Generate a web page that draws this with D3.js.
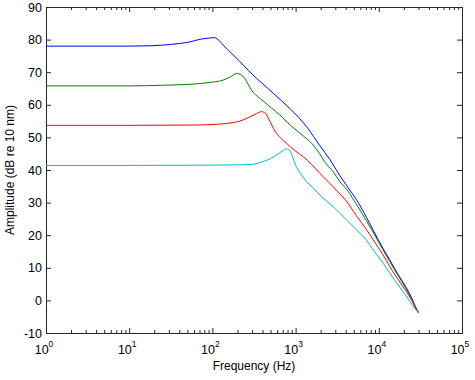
<!DOCTYPE html>
<html>
<head>
<meta charset="utf-8">
<script src="https://cdn.jsdelivr.net/npm/d3@7"></script>
<style>
  body { margin: 0; background: #fff; overflow: hidden; }
  text { font-family: "Liberation Sans", Arial, sans-serif; fill: #000; }
</style>
</head>
<body>
<script>
// curves: [frequency Hz, amplitude dB]
const blueCurve = [[1,78.0],[10,78.0],[18,78.1],[25,78.3],[40,78.8],[54,79.3],[71,80.1],[93,80.5],[105,80.6],[117,80.0],[135,78.3],
  [170,75.8],[215,73.2],[270,70.6],[340,68.1],[430,65.8],[540,63.5],[680,61.2],[850,58.9],[1100,56.0],[1400,52.8],
  [1950,47.5],[2600,43.1],[3400,38.3],[4300,34.5],[5400,30.9],[7100,25.5],[8500,21.7],[11200,16.0],[13500,12.5],
  [17000,8.0],[21400,3.9],[25100,0.5],[28200,-2.5],[30000,-3.8]];
const greenCurve = [[1,65.8],[10,65.8],[25,66.0],[54,66.3],[89,66.8],[135,67.6],[166,68.6],[195,69.6],[219,69.3],
  [245,68.1],[269,66.3],[295,64.5],[347,62.6],[407,61.2],[513,59.0],[646,56.9],[794,54.6],[977,52.6],[1230,50.5],
  [1585,48.0],[1950,45.0],[2240,42.5],[2820,39.5],[3390,36.5],[4270,33.5],[5370,29.5],[7080,24.5],[8510,21.0],
  [11220,15.5],[13490,12.0],[16980,7.7],[21380,3.5],[25120,0.2],[28180,-2.5],[30000,-3.8]];
const redCurve = [[1,53.7],[10,53.7],[63,53.8],[123,54.1],[214,55.0],[282,56.3],[339,57.3],[389,57.9],[437,57.3],
  [490,55.0],[562,52.0],[661,49.8],[776,48.2],[977,46.0],[1230,44.1],[1550,41.8],[1950,39.0],[2450,36.5],[3090,33.8],
  [4070,30.5],[5370,26.0],[7080,21.8],[8510,18.7],[11220,14.0],[13490,10.5],[16980,6.5],[21380,2.8],[25120,-0.2],
  [28180,-2.7],[30000,-3.8]];
const cyanCurve = [[1,41.4],[10,41.4],[100,41.5],[234,41.6],[316,41.8],[407,42.6],[501,43.5],[589,44.6],[692,45.8],
  [776,46.5],[851,46.0],[912,44.3],[1000,41.5],[1122,39.3],[1349,36.5],[1585,34.8],[2138,31.4],[2818,28.8],[3388,26.8],
  [4266,24.2],[5370,21.7],[7080,18.5],[8510,15.6],[11220,11.5],[13490,8.5],[16980,4.8],[21380,1.3],[25120,-1.3],
  [28180,-3.0],[30000,-3.8]];

const series = [
  {data: blueCurve, color: "#0000ff"},
  {data: greenCurve, color: "#008000"},
  {data: redCurve, color: "#ff0000"},
  {data: cyanCurve, color: "#00bfbf"}
];

const xDecades = [1, 10, 100, 1000, 10000, 100000];
const xExponents = ["0", "1", "2", "3", "4", "5"];
const yTicks = [-10, 0, 10, 20, 30, 40, 50, 60, 70, 80, 90];
const xLabel = "Frequency (Hz)";
const yLabel = "Amplitude (dB re 10 nm)";

const W = 475, H = 380;
const margin = {top: 7, right: 13, bottom: 47, left: 46};
const width = W - margin.left - margin.right;
const height = H - margin.top - margin.bottom;

const svg = d3.select("body").append("svg")
    .attr("width", W)
    .attr("height", H);

const g = svg.append("g")
    .attr("transform", "translate(" + margin.left + "," + margin.top + ")");

const xScale = d3.scaleLog().domain([1, 100000]).range([0, width]);
const yScale = d3.scaleLinear().domain([-10, 90]).range([height, 0]);

// minor ticks 2..9 in every decade
const minorTicks = [];
xDecades.slice(0, -1).forEach((d) => {
  for (let k = 2; k <= 9; k++) minorTicks.push(d * k);
});

function styleAxis(sel) {
  sel.select(".domain").remove();
  sel.selectAll("line").attr("stroke", "#262626").attr("stroke-width", 1);
}

// bottom axis, ticks inward
const xAxis = d3.axisBottom(xScale).tickValues(xDecades).tickSize(-5).tickFormat("");
g.append("g").attr("class", "xaxis").attr("transform", "translate(0," + height + ")").call(xAxis).call(styleAxis);
g.append("g").attr("transform", "translate(0," + height + ")")
  .call(d3.axisBottom(xScale).tickValues(minorTicks).tickSize(-3).tickFormat("")).call(styleAxis);
// top axis, ticks inward
g.append("g").call(d3.axisTop(xScale).tickValues(xDecades).tickSize(-5).tickFormat("")).call(styleAxis);
g.append("g").call(d3.axisTop(xScale).tickValues(minorTicks).tickSize(-3).tickFormat("")).call(styleAxis);

// y axes
const yAxis = d3.axisLeft(yScale).tickValues(yTicks).tickSize(-5).tickFormat("");
g.append("g").attr("class", "yaxis").call(yAxis).call(styleAxis);
g.append("g").attr("transform", "translate(" + width + ",0)")
  .call(d3.axisRight(yScale).tickValues(yTicks).tickSize(-5).tickFormat("")).call(styleAxis);

// box
g.append("rect")
  .attr("x", 0.5).attr("y", 0.5)
  .attr("width", width).attr("height", height)
  .attr("fill", "none").attr("stroke", "#262626").attr("stroke-width", 1);

// y tick labels
g.selectAll("text.ylab").data(yTicks).enter().append("text")
  .attr("class", "ylab")
  .attr("x", -4)
  .attr("y", (d) => yScale(d) + 4.5)
  .attr("text-anchor", "end")
  .style("font-size", "12.5px")
  .text((d) => d);

// x tick labels 10^n
const xl = g.selectAll("text.xlab").data(xDecades).enter().append("text")
  .attr("class", "xlab")
  .attr("x", (d) => xScale(d) - 2)
  .attr("y", height + 21)
  .attr("text-anchor", "middle")
  .style("font-size", "12.5px");
xl.append("tspan").text("10");
xl.append("tspan")
  .attr("dy", -7)
  .style("font-size", "8.5px")
  .text((d, i) => xExponents[i]);

// axis titles
g.append("text")
  .attr("x", width / 2)
  .attr("y", height + 37)
  .attr("text-anchor", "middle")
  .style("font-size", "12px")
  .text(xLabel);

g.append("text")
  .attr("transform", "translate(" + (-32) + "," + (height / 2) + ") rotate(-90)")
  .attr("text-anchor", "middle")
  .style("font-size", "12px")
  .text(yLabel);

// curves
const line = d3.line()
  .x((d) => xScale(d[0]))
  .y((d) => yScale(d[1]))
  .curve(d3.curveMonotoneX);

g.selectAll("path.curve").data(series).enter().append("path")
  .attr("class", "curve")
  .attr("fill", "none")
  .attr("stroke", (d) => d.color)
  .attr("stroke-width", 1)
  .attr("d", (d) => line(d.data));
</script>
</body>
</html>
